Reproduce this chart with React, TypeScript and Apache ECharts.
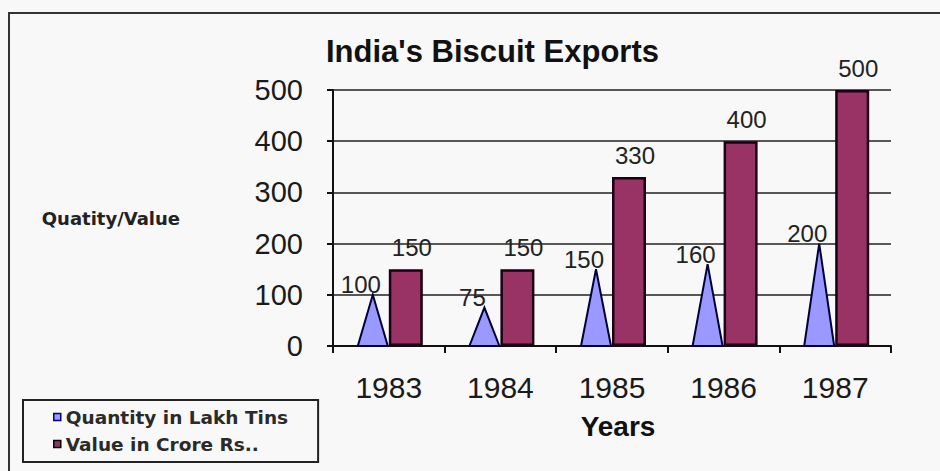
import React, { useEffect, useRef } from "react";
import * as echarts from "echarts";

const years = ["1983", "1984", "1985", "1986", "1987"];
const quantity = [100, 75, 150, 160, 200];
const valueCrore = [150, 150, 330, 400, 500];
const yMin = 0;
const yMax = 500;
const yStep = 100;

const seriesNames = ["Quantity in Lakh Tins", "Value in Crore Rs.."];
const titleText = "India's Biscuit Exports";
const yAxisName = "Quatity/Value";
const xAxisName = "Years";

const ARIAL = '"Liberation Sans", Arial, sans-serif';
const LEG = '"DejaVu Sans", Verdana, sans-serif';
const CONE_FILL = "#9999ff";
const CONE_STROKE = "#00003a";
const BAR_FILL = "#993366";
const BAR_STROKE = "#1a0010";

export default function App() {
  const ref = useRef<HTMLDivElement>(null);
  useEffect(() => {
    if (!ref.current) return;
    const chart = echarts.init(ref.current, null, { renderer: "svg" });
    const option: any = {
      animation: false,
      backgroundColor: "#f8f8f8",
      title: {
        text: titleText,
        left: 326,
        top: 36,
        padding: 0,
        textStyle: { fontFamily: ARIAL, fontSize: 31, fontWeight: "bold", color: "#111" },
      },
      graphic: [
        {
          type: "rect",
          silent: true,
          z: -10,
          shape: { x: 9, y: 13, width: 1000, height: 1000 },
          style: { fill: "none", stroke: "#333", lineWidth: 2 },
        },
      ],
      legend: {
        orient: "vertical",
        left: 23,
        top: 400,
        itemWidth: 7,
        itemHeight: 7,
        itemGap: 7,
        padding: [7, 30, 8, 30],
        borderColor: "#222",
        borderWidth: 2,
        borderRadius: 0,
        backgroundColor: "#f8f8f8",
        textStyle: { fontFamily: LEG, fontSize: 18.5, fontWeight: "bold", color: "#2a2a2a", lineHeight: 20 },
        data: [
          {
            name: seriesNames[0],
            icon: "rect",
            itemStyle: { color: CONE_FILL, borderColor: "#000080", borderWidth: 1.5 },
          },
          {
            name: seriesNames[1],
            icon: "rect",
            itemStyle: { color: BAR_FILL, borderColor: "#000", borderWidth: 1.5 },
          },
        ],
      },
      grid: { left: 333, right: 49, top: 90, bottom: 125, containLabel: false },
      xAxis: {
        type: "category",
        data: years,
        name: xAxisName,
        nameLocation: "middle",
        nameGap: 66,
        nameTextStyle: {
          fontFamily: ARIAL,
          fontSize: 28,
          fontWeight: "bold",
          color: "#111",
          padding: [0, 0, 0, 12],
        },
        axisLine: { lineStyle: { color: "#111", width: 2 } },
        axisTick: { show: true, length: 7, lineStyle: { color: "#111", width: 2 } },
        axisLabel: { margin: 26, fontFamily: ARIAL, fontSize: 30, color: "#1a1a1a" },
        splitLine: { show: false },
      },
      yAxis: {
        type: "value",
        min: yMin,
        max: yMax,
        interval: yStep,
        name: yAxisName,
        nameLocation: "middle",
        nameRotate: 0,
        nameGap: 153,
        nameTextStyle: {
          fontFamily: LEG,
          fontSize: 18,
          fontWeight: "bold",
          color: "#222",
          align: "right",
          verticalAlign: "middle",
        },
        axisLine: { show: true, lineStyle: { color: "#111", width: 2 } },
        axisTick: { show: true, length: 6, lineStyle: { color: "#111", width: 2 } },
        axisLabel: { margin: 30, fontFamily: ARIAL, fontSize: 29, color: "#1a1a1a" },
        splitLine: { show: true, lineStyle: { color: "#222", width: 1.5 } },
      },
      series: [
        {
          name: "placeholder",
          type: "bar",
          data: quantity,
          barWidth: 34,
          barGap: "0%",
          silent: true,
          itemStyle: { color: "rgba(0,0,0,0)" },
          label: { show: false },
        },
        {
          name: seriesNames[1],
          type: "bar",
          data: valueCrore,
          barWidth: 34,
          barGap: "0%",
          itemStyle: { color: BAR_FILL, borderColor: BAR_STROKE, borderWidth: 2.5 },
          label: {
            show: true,
            position: "top",
            distance: 10,
            offset: [6, 0],
            fontFamily: ARIAL,
            fontSize: 24,
            color: "#222",
          },
          z: 3,
        },
        {
          name: seriesNames[0],
          type: "custom",
          data: quantity.map((q, i) => [i, q]),
          encode: { x: 0, y: 1 },
          itemStyle: { color: CONE_FILL, borderColor: CONE_STROKE },
          z: 4,
          renderItem: (params: any, api: any) => {
            const i = api.value(0);
            const v = api.value(1);
            const base = api.coord([i, 0]);
            const top = api.coord([i, v]);
            const xc = base[0];
            return {
              type: "group",
              children: [
                {
                  type: "polygon",
                  shape: {
                    points: [
                      [xc - 31, base[1]],
                      [xc - 16, top[1]],
                      [xc - 1, base[1]],
                    ],
                  },
                  style: { fill: CONE_FILL, stroke: CONE_STROKE, lineWidth: 2 },
                },
                {
                  type: "text",
                  x: xc - 28,
                  y: top[1] - 10,
                  style: {
                    text: String(v),
                    fill: "#222",
                    fontFamily: ARIAL,
                    fontSize: 24,
                    align: "center",
                    verticalAlign: "middle",
                  },
                },
              ],
            };
          },
        },
      ],
    };
    chart.setOption(option);
    return () => chart.dispose();
  }, []);
  return (
    <div
      ref={ref}
      style={{ position: "fixed", left: 0, top: 0, width: 940, height: 471 }}
    />
  );
}
